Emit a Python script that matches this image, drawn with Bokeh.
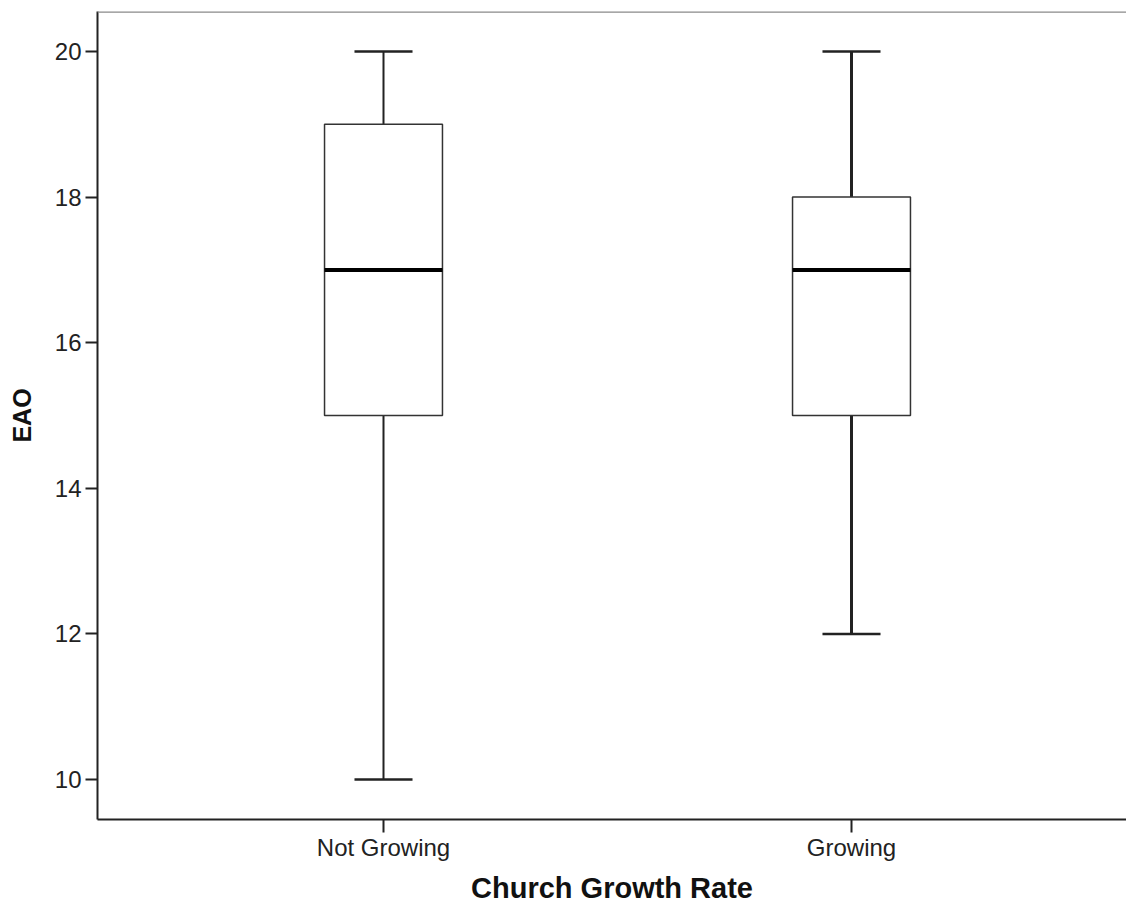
from bokeh.plotting import figure
from bokeh.models import FixedTicker, Span, Range1d, ColumnDataSource
from bokeh.embed import file_html
from bokeh.resources import INLINE

categories = ["Not Growing", "Growing"]
positions = [1, 2]
mins = [10, 12]
q1 = [15, 15]
medians = [17, 17]
q3 = [19, 18]
maxs = [20, 20]
y_ticks = [10, 12, 14, 16, 18, 20]
x_title = "Church Growth Rate"
y_title = "EAO"

box_w = 0.252
cap_w = 0.124

src = ColumnDataSource(dict(
    x=positions,
    left=[p - box_w / 2 for p in positions],
    right=[p + box_w / 2 for p in positions],
    cl=[p - cap_w / 2 for p in positions],
    cr=[p + cap_w / 2 for p in positions],
    lo=mins, q1=q1, med=medians, q3=q3, hi=maxs,
    ww=[2, 3],
))

px_per_x = 468
px_per_y = 72.8
x_start = 1 - 286 / px_per_x
x_end = x_start + 1029 / px_per_x
y_start = 10 - 40 / px_per_y
y_end = 20 + 40 / px_per_y

p = figure(width=1126, height=907, output_backend="svg", toolbar_location=None,
           x_range=Range1d(x_start, x_end), y_range=Range1d(y_start, y_end))
p.min_border_left = 97
p.min_border_right = 0
p.min_border_top = 11
p.min_border_bottom = 88
p.outline_line_color = None
p.grid.visible = False
p.background_fill_color = "white"
p.border_fill_color = "white"

# whiskers
p.segment(x0="x", y0="lo", x1="x", y1="q1", source=src, line_color="#222222", line_width="ww")
p.segment(x0="x", y0="q3", x1="x", y1="hi", source=src, line_color="#222222", line_width="ww")
p.segment(x0="cl", y0="lo", x1="cr", y1="lo", source=src, line_color="#222222", line_width=2.5)
p.segment(x0="cl", y0="hi", x1="cr", y1="hi", source=src, line_color="#222222", line_width=2.5)
# boxes
p.quad(left="left", right="right", bottom="q1", top="q3", source=src,
       fill_color="white", line_color="#333333", line_width=1.5)
# medians
p.segment(x0="left", y0="med", x1="right", y1="med", source=src, line_color="black", line_width=4)

top_line = Span(location=y_end, dimension="width", line_color="#8a8a8a", line_width=2.5)
p.add_layout(top_line)

font = "Liberation Sans"
for ax in (p.xaxis[0], p.yaxis[0]):
    ax.axis_line_color = "#222222"
    ax.axis_line_width = 2
    ax.major_tick_line_color = "#222222"
    ax.major_tick_line_width = 2
    ax.major_tick_in = 0
    ax.minor_tick_line_color = None
    ax.major_label_text_font = font
    ax.major_label_text_font_size = "24px"
    ax.major_label_text_color = "#222222"
    ax.axis_label_text_font = font
    ax.axis_label_text_font_style = "bold"
    ax.axis_label_text_color = "#111111"

p.xaxis.ticker = FixedTicker(ticks=positions)
p.xaxis.major_label_overrides = {pos: c for pos, c in zip(positions, categories)}
p.xaxis.major_tick_out = 13
p.xaxis.major_label_standoff = 1
p.xaxis.axis_label = x_title
p.xaxis.axis_label_text_font_size = "29px"
p.xaxis.axis_label_standoff = 8

p.yaxis.ticker = FixedTicker(ticks=y_ticks)
p.yaxis.major_tick_out = 12
p.yaxis.major_label_standoff = 4
p.yaxis.axis_label = y_title
p.yaxis.axis_label_text_font_size = "25px"
p.yaxis.axis_label_standoff = 16

open("out.html", "w").write(file_html(p, INLINE))
